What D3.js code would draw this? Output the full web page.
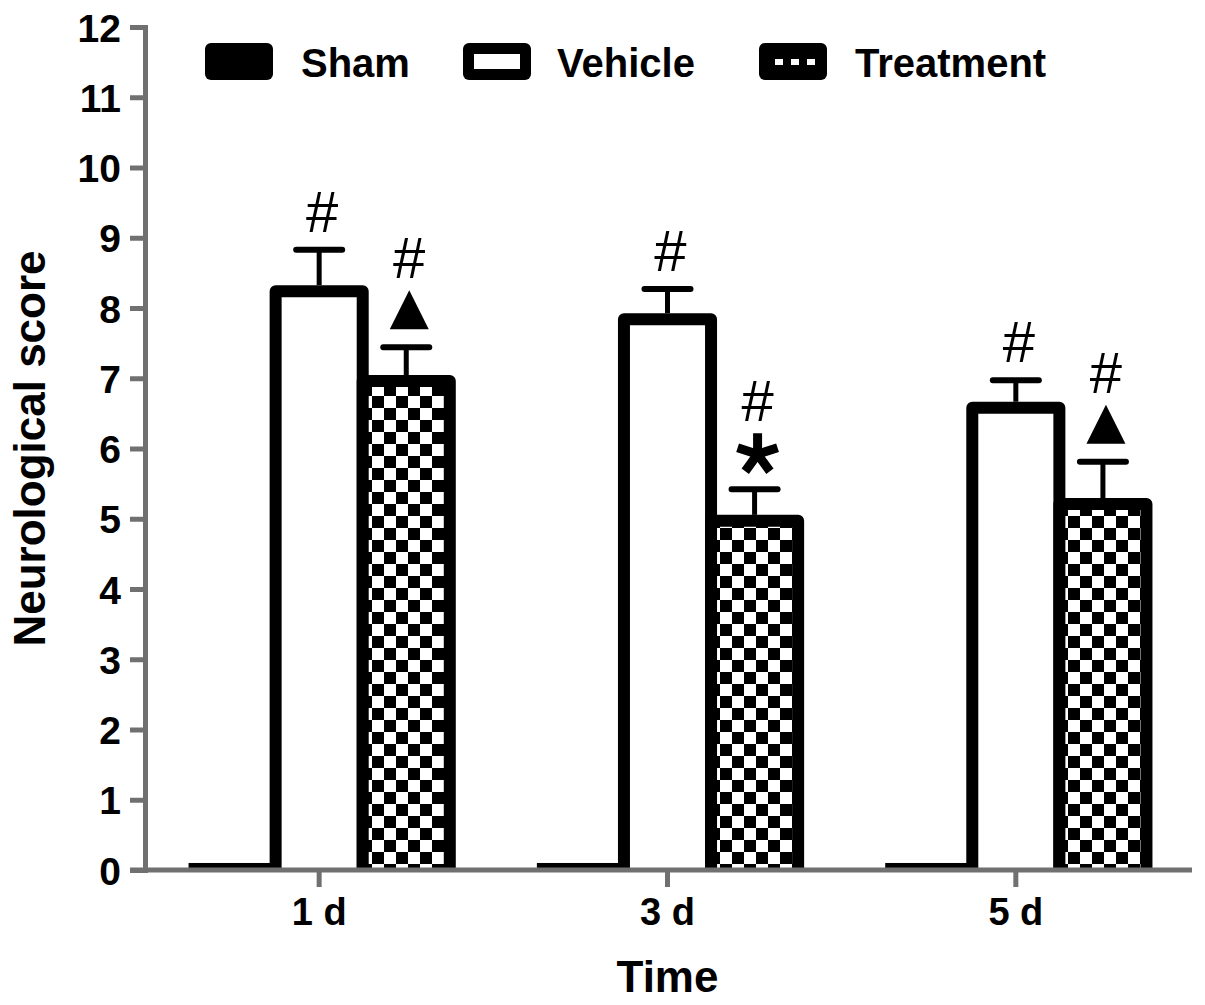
<!DOCTYPE html>
<html>
<head>
<meta charset="utf-8">
<script src="https://cdn.jsdelivr.net/npm/d3@7"></script>
<style>
  body { margin: 0; background: white; }
  svg { display: block; font-family: "Liberation Sans", Arial, sans-serif; }
</style>
</head>
<body>
<div id="chart"></div>
<script>
// データ
const categories = ["1 d", "3 d", "5 d"];
const seriesNames = ["Sham", "Vehicle", "Treatment"];
const shamMean = [0.1, 0.1, 0.1];
const vehicleMean = [8.24, 7.84, 6.58];
const vehicleSem = [0.59, 0.43, 0.39];
const treatmentMean = [6.96, 4.97, 5.21];
const treatmentSem = [0.48, 0.45, 0.60];
// 有意差の記号 (下から順)
const vehicleMarks = [["#"], ["#"], ["#"]];
const treatmentMarks = [["▲", "#"], ["*", "#"], ["▲", "#"]];
const yTickValues = [0, 1, 2, 3, 4, 5, 6, 7, 8, 9, 10, 11, 12];

const width = 1205, height = 1005;
const axisColor = "#707070";
const font = "'Liberation Sans', Arial, sans-serif";

// 表を組み立てる
const rows = categories.flatMap((cat, i) => [
    {cat, series: "Sham", mean: shamMean[i], sem: 0, marks: []},
    {cat, series: "Vehicle", mean: vehicleMean[i], sem: vehicleSem[i], marks: vehicleMarks[i]},
    {cat, series: "Treatment", mean: treatmentMean[i], sem: treatmentSem[i], marks: treatmentMarks[i]}
]);

const svg = d3.select("#chart")
    .append("svg")
    .attr("width", width)
    .attr("height", height)
    .attr("viewBox", `0 0 ${width} ${height}`);

// 市松模様
const defs = svg.append("defs");
const checker = defs.append("pattern")
    .attr("id", "checker")
    .attr("patternUnits", "userSpaceOnUse")
    .attr("width", 24).attr("height", 24);
checker.append("rect").attr("width", 24).attr("height", 24).attr("fill", "white");
checker.append("rect").attr("width", 12).attr("height", 12).attr("fill", "black");
checker.append("rect").attr("x", 12).attr("y", 12).attr("width", 12).attr("height", 12).attr("fill", "black");

const checkerSmall = defs.append("pattern")
    .attr("id", "checkerSmall")
    .attr("patternUnits", "userSpaceOnUse")
    .attr("width", 16).attr("height", 16);
checkerSmall.append("rect").attr("width", 16).attr("height", 16).attr("fill", "black");
checkerSmall.append("rect").attr("width", 8).attr("height", 8).attr("fill", "white");

// スケール
const x = d3.scaleBand().domain(categories).range([145, 1190]).padding(0);
const xs = d3.scaleBand().domain(seriesNames).range([0, x.bandwidth()]).paddingInner(0).paddingOuter(0.5);
const y = d3.scaleLinear().domain([0, 12]).range([870, 27]);

const fillOf = {Sham: "black", Vehicle: "white", Treatment: "url(#checker)"};

// 棒 (Sham は塗りのみ、他は下辺なしの太枠)
const bars = svg.append("g");
bars.selectAll("rect.sham")
    .data(rows.filter(d => d.series === "Sham"))
    .enter()
    .append("rect")
    .attr("class", "sham")
    .attr("x", d => x(d.cat) + xs(d.series))
    .attr("y", d => y(d.mean))
    .attr("width", xs.bandwidth())
    .attr("height", d => y(0) - y(d.mean))
    .attr("fill", "black");

bars.selectAll("path.bar")
    .data(rows.filter(d => d.series !== "Sham"))
    .enter()
    .append("path")
    .attr("class", "bar")
    .attr("d", d => {
        const x0 = x(d.cat) + xs(d.series);
        const x1 = x0 + xs.bandwidth();
        const p = d3.path();
        p.moveTo(x0, y(0));
        p.lineTo(x0, y(d.mean));
        p.lineTo(x1, y(d.mean));
        p.lineTo(x1, y(0));
        return p.toString();
    })
    .attr("fill", d => fillOf[d.series])
    .attr("stroke", "black")
    .attr("stroke-width", 12)
    .attr("stroke-linejoin", "round");

// 軸
const yAxis = svg.append("g")
    .attr("transform", `translate(${x.range()[0]},0)`)
    .call(d3.axisLeft(y).tickValues(yTickValues).tickSize(15).tickPadding(9));
yAxis.select(".domain").attr("stroke", axisColor).attr("stroke-width", 5);
yAxis.selectAll(".tick line").attr("stroke", axisColor).attr("stroke-width", 5);
yAxis.selectAll(".tick text")
    .attr("fill", "black")
    .attr("font-family", font)
    .attr("font-weight", "bold")
    .attr("font-size", 39)
    .attr("dy", "0.36em");

const xAxis = svg.append("g")
    .attr("transform", `translate(0,${y(0)})`)
    .call(d3.axisBottom(x).tickSize(17).tickSizeOuter(0).tickPadding(11));
xAxis.select(".domain").remove();
xAxis.selectAll(".tick line").attr("stroke", axisColor).attr("stroke-width", 5);
xAxis.selectAll(".tick text")
    .attr("fill", "black")
    .attr("font-family", font)
    .attr("font-weight", "bold")
    .attr("font-size", 38);
xAxis.append("line")
    .attr("x1", x.range()[0] - 15)
    .attr("x2", x.range()[1] + 2)
    .attr("stroke", axisColor)
    .attr("stroke-width", 5);

// 誤差棒
const errRows = rows.filter(d => d.sem > 0);
const cx = d => x(d.cat) + xs(d.series) + xs.bandwidth() / 2;
svg.append("g").selectAll("line.stem")
    .data(errRows)
    .enter()
    .append("line")
    .attr("x1", cx).attr("x2", cx)
    .attr("y1", d => y(d.mean) - 6)
    .attr("y2", d => y(d.mean + d.sem))
    .attr("stroke", "black")
    .attr("stroke-width", 5);
svg.append("g").selectAll("line.cap")
    .data(errRows)
    .enter()
    .append("line")
    .attr("x1", d => cx(d) - 23).attr("x2", d => cx(d) + 23)
    .attr("y1", d => y(d.mean + d.sem))
    .attr("y2", d => y(d.mean + d.sem))
    .attr("stroke", "black")
    .attr("stroke-width", 6)
    .attr("stroke-linecap", "round");

// 記号 (#, ▲, *) を誤差棒の上に積む
const markHeight = {"#": 42, "▲": 39, "*": 38};
const marksG = svg.append("g");
errRows.forEach(d => {
    let bottom = y(d.mean + d.sem) - 18;
    const mx = cx(d) + 3;
    d.marks.forEach(m => {
        const h = markHeight[m];
        if (m === "#") {
            marksG.append("text")
                .attr("x", mx)
                .attr("y", bottom)
                .attr("text-anchor", "middle")
                .attr("font-family", font)
                .attr("font-size", 58)
                .text("#");
        } else if (m === "▲") {
            const p = d3.path();
            p.moveTo(mx, bottom - h);
            p.lineTo(mx + 19.5, bottom);
            p.lineTo(mx - 19.5, bottom);
            p.closePath();
            marksG.append("path").attr("d", p.toString()).attr("fill", "black");
        } else if (m === "*") {
            const r = h / 1.81;
            const c = bottom - r * Math.cos(Math.PI / 5);
            const p = d3.path();
            for (let k = 0; k < 5; k++) {
                const a = -Math.PI / 2 + k * 2 * Math.PI / 5;
                p.moveTo(mx, c);
                p.lineTo(mx + r * Math.cos(a), c + r * Math.sin(a));
            }
            marksG.append("path")
                .attr("d", p.toString())
                .attr("stroke", "black")
                .attr("stroke-width", 9)
                .attr("fill", "none");
        }
        bottom -= h + 12;
    });
});

// 軸タイトル
svg.append("text")
    .attr("transform", `translate(45,${(y(0) + y(12)) / 2}) rotate(-90)`)
    .attr("text-anchor", "middle")
    .attr("font-family", font)
    .attr("font-weight", "bold")
    .attr("font-size", 44)
    .text("Neurological score");

svg.append("text")
    .attr("x", x(categories[1]) + x.bandwidth() / 2)
    .attr("y", 992)
    .attr("text-anchor", "middle")
    .attr("font-family", font)
    .attr("font-weight", "bold")
    .attr("font-size", 44)
    .text("Time");

// 凡例
const legendX = [205, 463, 759];
const legend = svg.append("g")
    .selectAll("g")
    .data(seriesNames)
    .enter()
    .append("g")
    .attr("transform", (d, i) => `translate(${legendX[i]},43)`);
legend.append("rect")
    .attr("width", 68).attr("height", 37).attr("rx", 6)
    .attr("fill", "black");
legend.filter(d => d === "Vehicle").append("rect")
    .attr("x", 11).attr("y", 11).attr("width", 46).attr("height", 15)
    .attr("fill", "white");
legend.filter(d => d === "Treatment").append("rect")
    .attr("x", 10).attr("y", 13).attr("width", 48).attr("height", 9)
    .attr("fill", "url(#checkerSmall)");
legend.append("text")
    .attr("x", (d, i) => [96, 94, 96][i])
    .attr("y", 34)
    .attr("font-family", font)
    .attr("font-weight", "bold")
    .attr("font-size", 40)
    .text(d => d);
</script>
</body>
</html>
